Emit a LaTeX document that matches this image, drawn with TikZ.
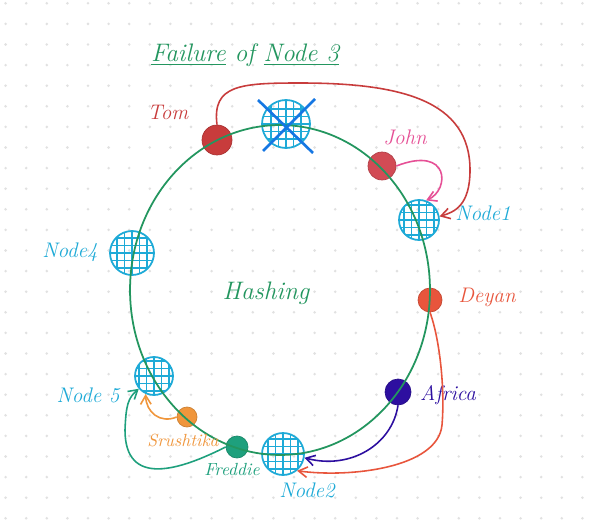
\documentclass[tikz,border=0pt]{standalone}
\usetikzlibrary{arrows.meta}

\definecolor{ringgreen}{RGB}{35,150,95}
\definecolor{nodecyan}{RGB}{30,170,215}
\definecolor{tomred}{RGB}{200,60,60}
\definecolor{johnpink}{RGB}{230,80,150}
\definecolor{johnred}{RGB}{210,75,85}
\definecolor{deyanred}{RGB}{232,85,60}
\definecolor{africablue}{RGB}{45,15,160}
\definecolor{srushorange}{RGB}{240,150,60}
\definecolor{freddieteal}{RGB}{30,160,125}
\definecolor{paperdot}{RGB}{225,225,225}

\tikzset{
  hashnode/.style={circle, draw=nodecyan, line width=1pt, minimum size=#1, inner sep=0pt,
    path picture={
      \foreach \k in {-2,...,2}{
        \draw[nodecyan, line width=0.7pt]
          ([xshift=\k*0.15cm]path picture bounding box.north) -- ([xshift=\k*0.15cm]path picture bounding box.south)
          ([yshift=\k*0.15cm]path picture bounding box.west) -- ([yshift=\k*0.15cm]path picture bounding box.east);
      }}},
  hashnode/.default=0.8cm,
  keydot/.style={circle, fill=#1, draw=#1!85!black, inner sep=0pt},
  lbl/.style={font=\large\itshape},
  barb/.style={-{Straight Barb[length=5pt,width=6pt]}, line width=0.9pt}
}

\begin{document}
\begin{tikzpicture}[x=0.02cm, y=-0.02cm]
        \useasboundingbox (0,0) rectangle (595,527);
        \fill[white] (0,0) rectangle (595,527);
        % dotted paper
        \foreach \i in {0,...,28}
          \foreach \j in {0,...,25}
            \fill[paperdot] (5.6+20.6*\i, 3.3+20.6*\j) circle (0.8pt);

        \node[font=\Large\itshape, text=ringgreen] (title) at (245,55) {\underline{Failure} of \underline{Node 3}};

        % servers
        \node[hashnode=0.96cm] at (286,124)(node3){};
        \node[hashnode=0.8cm] at (419,220)(node1){};
        \node[hashnode=0.88cm] at (132,253)(node4){};
        \node[hashnode=0.76cm] at (154,376)(node5){};
        \node[hashnode=0.84cm] at (283,454)(node2){};

        % keys
        \node[keydot=tomred, minimum size=0.6cm] at (217,140)(tom){};
        \node[keydot=johnred, minimum size=0.56cm] at (382,166)(john){};
        \node[keydot=deyanred, minimum size=0.48cm] at (430,300)(deyan){};
        \node[keydot=africablue, minimum size=0.52cm] at (398,392)(africa){};
        \node[keydot=srushorange, minimum size=0.4cm] at (187,417)(srush){};
        \node[keydot=freddieteal, minimum size=0.44cm] at (237,447)(freddie){};

        % hash ring
        \coordinate (ringc) at (280,290);
        \draw[ringgreen, line width=1pt] (ringc) ellipse [x radius=3cm, y radius=3.3cm];

        % node 3 is down
        \draw[nodecyan!70!blue, line width=1.5pt]
          ([shift={(-28,-24)}]node3.center) -- ([shift={(27,29)}]node3.center)
          ([shift={(29,-25)}]node3.center) -- ([shift={(-23,27)}]node3.center);

        % labels
        \node[lbl, text=tomred] at (168,112)(tomlbl){Tom};
        \node[lbl, text=johnpink] at (405,137)(johnlbl){John};
        \node[lbl, text=nodecyan] at (483,213)(node1lbl){Node1};
        \node[lbl, text=nodecyan] at (70,252)(node4lbl){Node4};
        \node[font=\Large\itshape, text=ringgreen] at (266,293)(hashlbl){Hashing};
        \node[lbl, text=deyanred] at (487,297)(deyanlbl){Deyan};
        \node[lbl, text=africablue] at (448,395)(africalbl){Africa};
        \node[lbl, text=nodecyan] at (88,395)(node5lbl){Node 5};
        \node[font=\itshape, text=srushorange] at (183,440)(srushlbl){Srushtika};
        \node[font=\itshape, text=freddieteal] at (232,469)(freddielbl){Freddie};
        \node[lbl, text=nodecyan] at (307,490)(node2lbl){Node2};

        % keys moving to the next server
        \draw[barb, tomred] (tom.north) .. controls (212,85) and (240,83) .. (300,83)
          .. controls (400,83) and (470,100) .. (470,170)
          .. controls (470,205) and (455,212) .. (node1.10);
        \draw[barb, johnpink] (john.east) .. controls (450,145) and (450,190) .. (node1.70);
        \draw[barb, deyanred] (deyan.south) .. controls (440,340) and (445,390) .. (442,425)
          .. controls (438,468) and (350,478) .. (node2.-50);
        \draw[barb, africablue] (africa.south) .. controls (392,445) and (350,470) .. (node2.-10);
        \draw[barb, srushorange] (srush.west) .. controls (160,424) and (146,412) .. (node5.-115);
        \draw[barb, freddieteal] (freddie.west) .. controls (180,470) and (125,488) .. (125,430)
          .. controls (126,405) and (128,398) .. (node5.-140);
    \end{tikzpicture}
\end{document}
